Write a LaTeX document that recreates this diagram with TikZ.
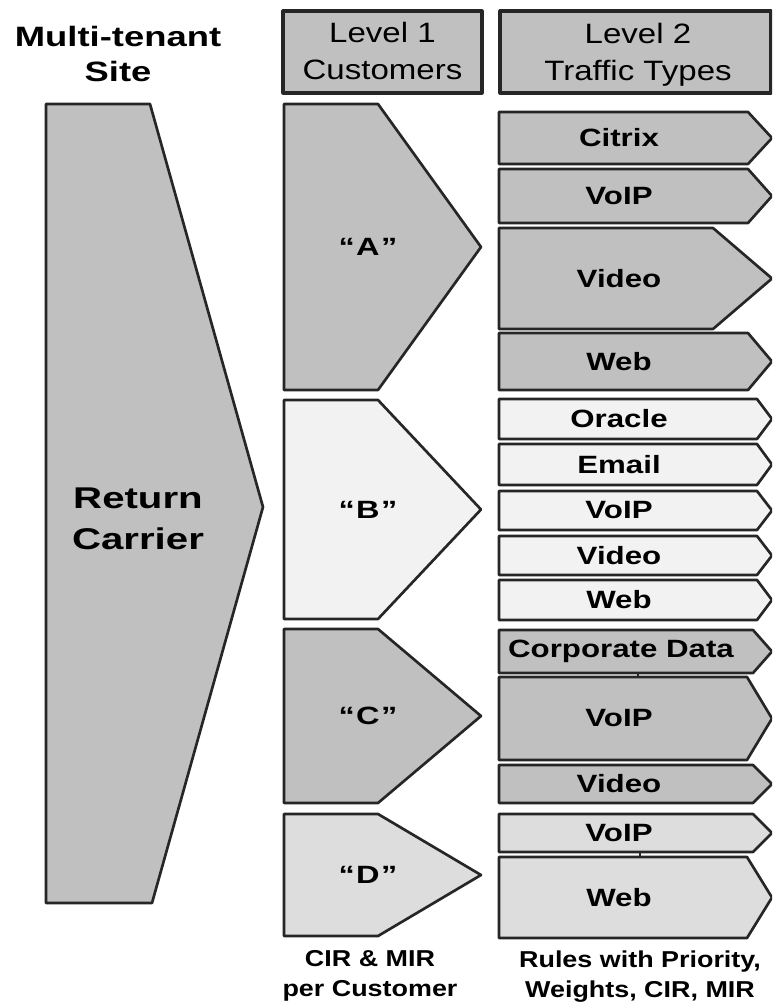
\documentclass[tikz,border=0pt]{standalone}
\usepackage{fontspec}
\setmainfont{Liberation Sans}
\newcommand\sx[2]{\scalebox{#1}[1]{#2}}
\definecolor{gdark}{HTML}{C0C0C0}
\definecolor{glight}{HTML}{F2F2F2}
\definecolor{gmid}{HTML}{DDDDDD}
\definecolor{edge}{HTML}{262626}
\tikzset{
  shp/.style={draw=edge, line width=2pt, line join=round},
  hdr/.style={draw=edge, line width=2.4pt, fill=gdark, line join=round},
  hdrtxt/.style={align=center, inner sep=0pt, font=\fontsize{21}{27.75}\selectfont},
  toptxt/.style={align=center, inner sep=0pt, font=\bfseries\fontsize{21}{26.25}\selectfont},
  bigtxt/.style={align=center, inner sep=0pt, font=\bfseries\fontsize{22.5}{30.75}\selectfont},
  lbl/.style={inner sep=0pt, font=\bfseries\fontsize{18.75}{20}\selectfont},
  cust/.style={inner sep=0pt, font=\bfseries\fontsize{18.75}{20}\selectfont},
  foot/.style={align=center, inner sep=0pt, font=\bfseries\fontsize{17.25}{22.5}\selectfont},
}
\newcommand\ttype[7]{%
  \draw[shp, fill=#5] (499,#2) -- (#4,#2) -- (772,{(#2+#3)/2}) -- (#4,#3) -- (499,#3) -- cycle;
  \node[lbl] (#1) at (#7,{(#2+#3)/2}) {\sx{1.25}{#6}};}
\newcommand\custshape[5]{%
  \draw[shp, fill=#4] (284,#2) -- (378,#2) -- (481,{(#2+#3)/2}) -- (378,#3) -- (284,#3) -- cycle;
  \node[cust] (#1) at (368,{(#2+#3)/2}) {\sx{1.3}{“\kern0.04em#5\kern0.04em”}};}
\begin{document}
\begin{tikzpicture}[x=0.75pt,y=-0.75pt]
\useasboundingbox (0,0) rectangle (772,1003);
\clip (0,0) rectangle (772,1003);
% headers
\node[toptxt] (site) at (118,54.3) {\sx{1.3}{Multi-tenant}\\\sx{1.3}{Site}};
\draw[hdr] (283,11) rectangle (482,93);
\node[hdrtxt] (lev1) at (382.5,51.3) {\sx{1.18}{Level 1}\\\sx{1.18}{Customers}};
\draw[hdr] (500,11) rectangle (771,93);
\node[hdrtxt] (lev2) at (638,54.3) {\sx{1.18}{Level 2}\\\sx{1.18}{Traffic Types}};
% return carrier
\draw[shp, fill=gdark] (46,104) -- (150,104) -- (263,507) -- (152,903) -- (46,903) -- cycle;
\node[bigtxt] (rc) at (138,518.8) {\sx{1.34}{Return}\\\sx{1.34}{Carrier}};
% customers
\custshape{ca}{104}{390}{gdark}{A}
\custshape{cb}{400}{619}{glight}{B}
\custshape{cc}{629}{803}{gdark}{C}
\custshape{cd}{814}{936}{gmid}{D}
% traffic types
\ttype{a1}{112}{164}{748}{gdark}{Citrix}{619}
\ttype{a2}{169}{223}{748}{gdark}{VoIP}{619}
\ttype{a3}{228}{329}{713}{gdark}{Video}{619}
\ttype{a4}{333}{390}{748}{gdark}{Web}{619}
\ttype{b1}{399}{439}{757}{glight}{Oracle}{619}
\ttype{b2}{444}{485}{757}{glight}{Email}{619}
\ttype{b3}{491}{530}{757}{glight}{VoIP}{619}
\ttype{b4}{536}{575}{757}{glight}{Video}{619}
\ttype{b5}{580}{620}{757}{glight}{Web}{619}
\ttype{c1}{630}{673}{753}{gdark}{Corporate Data}{621}
\ttype{c2}{677}{760}{747}{gdark}{VoIP}{619}
\ttype{c3}{765}{803}{753}{gdark}{Video}{619}
\ttype{d1}{814}{852}{753}{gmid}{VoIP}{619}
\ttype{d2}{857}{938}{747}{gmid}{Web}{619}
\draw[edge, line width=0.8pt] (638,673) -- (638,677);
\draw[edge, line width=0.8pt] (640,852) -- (640,857);
% footers
\node[foot] (f1) at (370,976) {\sx{1.17}{CIR \& MIR}\\\sx{1.17}{per Customer}};
\node[foot] (f2) at (640,976.5) {\sx{1.17}{Rules with Priority,}\\\sx{1.17}{Weights, CIR, MIR}};
\end{tikzpicture}
\end{document}
